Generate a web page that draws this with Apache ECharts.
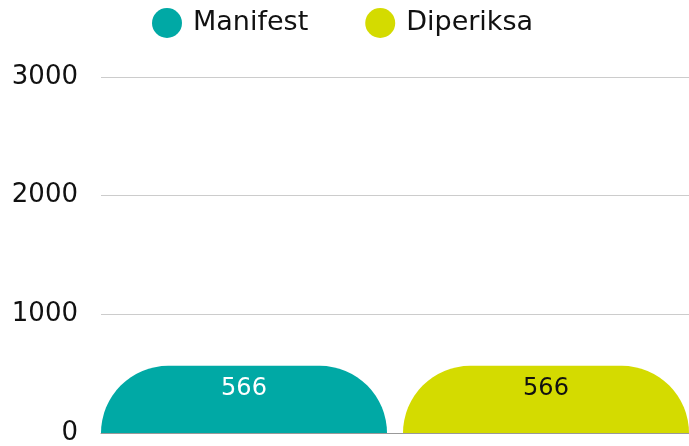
<!DOCTYPE html>
<html>
<head>
<meta charset="utf-8">
<script src="https://cdn.jsdelivr.net/npm/echarts@6/dist/echarts.min.js"></script>
<style>
  html, body { margin: 0; padding: 0; background: #fff; }
  #chart { width: 689px; height: 446px; }
</style>
</head>
<body>
<div id="chart"></div>
<script>
const categories = ["Total"];
const manifest = [566];
const diperiksa = [566];
const yTicks = [0, 1000, 2000, 3000];

const chart = echarts.init(document.getElementById("chart"));
const font = "'DejaVu Sans', sans-serif";

const option = {
  animation: false,
  textStyle: { fontFamily: font },
  legend: {
    top: 3,
    left: 147,
    icon: "circle",
    itemWidth: 30,
    itemHeight: 30,
    itemGap: 57,
    textStyle: { fontSize: 27, color: "#111", fontFamily: font, padding: [0, 0, 0, 6] },
    data: ["Manifest", "Diperiksa"],
  },
  grid: {
    left: 101,
    right: 0,
    top: 77,
    bottom: 12,
    containLabel: false,
  },
  xAxis: {
    type: "category",
    data: categories,
    axisTick: { show: false },
    axisLabel: { show: false },
    axisLine: { lineStyle: { color: "#999" } },
  },
  yAxis: {
    type: "value",
    min: yTicks[0],
    max: yTicks[yTicks.length - 1],
    interval: 1000,
    axisLabel: {
      fontSize: 26,
      color: "#111",
      margin: 23,
      padding: [8, 0, 0, 0],
      fontFamily: font,
      formatter: (v) => String(v),
    },
    axisLine: { show: false },
    axisTick: { show: false },
    splitLine: { lineStyle: { color: "#cccccc" } },
  },
  series: [
    {
      name: "Manifest",
      type: "bar",
      data: manifest,
      barGap: "5.6%",
      barCategoryGap: "0%",
      itemStyle: { color: "#00a9a5", borderRadius: [200, 200, 0, 0] },
      label: {
        show: true,
        position: "insideTop",
        distance: 11,
        color: "#fff",
        fontSize: 24,
        fontFamily: font,
      },
    },
    {
      name: "Diperiksa",
      type: "bar",
      data: diperiksa,
      itemStyle: { color: "#d4db00", borderRadius: [200, 200, 0, 0] },
      label: {
        show: true,
        position: "insideTop",
        distance: 11,
        color: "#111",
        fontSize: 24,
        fontFamily: font,
      },
    },
  ],
};

chart.setOption(option);
</script>
</body>
</html>
